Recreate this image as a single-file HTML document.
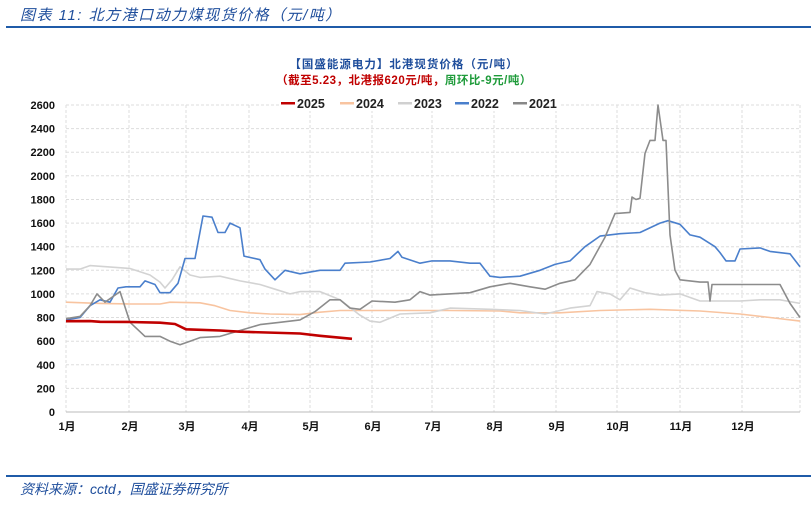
<!DOCTYPE html>
<html><head><meta charset="utf-8"><style>
body{margin:0;background:#fff;width:811px;height:513px;overflow:hidden;font-family:"Liberation Sans","Noto Sans CJK SC",sans-serif}
</style></head><body>
<svg id="s" width="811" height="513" xmlns="http://www.w3.org/2000/svg" font-family="Liberation Sans, Noto Sans CJK SC, sans-serif">
<text x="20" y="20" font-size="15" font-style="italic" fill="#1f4e9c" letter-spacing="1.5">图表 11:  北方港口动力煤现货价格（元/吨）</text>
<rect x="6" y="26" width="805" height="2" fill="#1f5ba8"/>
<text x="404" y="68" font-size="11.5" font-weight="bold" fill="#1f4e9c" text-anchor="middle" letter-spacing="1">【国盛能源电力】北港现货价格（元/吨）</text>
<text x="404" y="84" font-size="11.5" font-weight="bold" text-anchor="middle" letter-spacing="0.5"><tspan fill="#c00000">（截至5.23，北港报620元/吨，</tspan><tspan fill="#1e9b3a">周环比-9元/吨）</tspan></text>
<g id="grid"></g>
<g id="lines" fill="none" stroke-linejoin="round"></g>
<g font-size="12.5" font-weight="bold" fill="#222">
<rect x="280" y="96" width="280" height="15" fill="#fff"/>
<rect x="281" y="102" width="14" height="2.5" fill="#c00000"/><text x="297" y="108">2025</text>
<rect x="340" y="102" width="14" height="2.5" fill="#f8c4a0"/><text x="356" y="108">2024</text>
<rect x="398" y="102" width="14" height="2.5" fill="#d0d0d0"/><text x="414" y="108">2023</text>
<rect x="455" y="102" width="14" height="2.5" fill="#4a7fcc"/><text x="471" y="108">2022</text>
<rect x="513" y="102" width="14" height="2.5" fill="#888"/><text x="529" y="108">2021</text>
</g>
<rect x="6" y="475" width="805" height="2" fill="#1f5ba8"/>
<text x="20" y="494" font-size="14" font-style="italic" fill="#1f4e9c">资料来源：cctd，国盛证券研究所</text>
</svg>
<script>
function Y(v){return 412-v*0.11808;}
var g=document.getElementById('grid'),s='';
for(var v=0;v<=2600;v+=200){
 var y=Y(v).toFixed(1);
 if(v>0)s+='<line x1="66" x2="800" y1="'+y+'" y2="'+y+'" stroke="#ddd" stroke-dasharray="3,2"/>';
 s+='<text x="55" y="'+(+y+4)+'" font-size="11" font-weight="bold" text-anchor="end" fill="#111">'+v+'</text>';
}
var mx=[66,129,186,249,310,372,432,494,556,617,680,742,800];
for(var i=0;i<mx.length;i++){
 s+='<line x1="'+mx[i]+'" x2="'+mx[i]+'" y1="105" y2="412" stroke="#ddd" stroke-dasharray="3,2"/>';
 if(i<12)s+='<text x="'+(mx[i]+1)+'" y="430" font-size="11" font-weight="bold" text-anchor="middle" fill="#111">'+(i+1)+'月</text>';
}
s+='<line x1="66" x2="800" y1="412" y2="412" stroke="#bbb"/>';
g.innerHTML=s;
var D={
'#f8c4a0':[66,930,100,920,130,915,160,915,170,930,200,925,215,900,230,860,250,840,270,830,300,825,320,845,340,860,370,860,400,860,450,860,500,855,520,840,560,840,600,860,650,870,700,855,740,830,770,800,800,770],
'#d3d3d3':[66,1210,80,1210,90,1240,130,1215,150,1160,160,1100,165,1050,172,1120,180,1230,190,1160,200,1140,220,1150,240,1110,260,1080,275,1040,290,1000,300,1020,320,1020,340,950,360,820,370,770,380,760,400,830,430,840,450,880,490,870,520,860,545,830,570,880,590,900,597,1020,610,1000,620,950,630,1050,645,1010,660,990,680,1000,700,940,740,940,760,950,780,950,800,920],
'#4a7fcc':[66,780,80,800,90,900,100,950,110,930,118,1050,126,1060,140,1060,145,1110,155,1080,160,1010,170,1010,178,1090,185,1300,195,1300,203,1660,212,1650,218,1520,225,1520,230,1600,240,1560,244,1320,260,1290,265,1210,275,1120,285,1200,300,1170,320,1200,340,1200,345,1260,370,1270,390,1300,398,1360,402,1310,420,1260,432,1280,450,1280,470,1260,480,1260,490,1150,500,1140,520,1150,540,1200,555,1250,570,1280,585,1400,600,1490,620,1510,640,1520,660,1600,668,1620,680,1590,690,1500,700,1480,715,1400,720,1350,726,1280,735,1280,740,1380,760,1390,770,1360,790,1340,800,1230],
'#8c8c8c':[66,790,80,810,90,900,97,1000,105,930,120,1020,130,760,140,680,145,640,160,640,170,600,180,570,190,600,200,630,220,640,240,690,260,740,280,760,300,780,315,850,330,950,340,950,350,880,360,870,372,940,395,930,410,950,420,1020,430,990,470,1010,490,1060,510,1090,530,1060,545,1040,560,1090,575,1120,590,1250,605,1480,615,1680,630,1690,632,1820,636,1800,640,1810,645,2190,650,2300,655,2300,658,2600,663,2300,666,2300,670,1500,675,1200,680,1120,700,1100,708,1100,710,940,712,1080,780,1080,790,920,800,800],
'#c00000':[66,769,90,770,100,764,130,762,160,756,175,745,186,700,220,690,240,680,300,665,320,645,352,620]
};
var L=document.getElementById('lines'),h='';
for(var c in D){var a=D[c],p=[];for(var i=0;i<a.length;i+=2)p.push(a[i]+','+Y(a[i+1]).toFixed(1));
 h+='<polyline points="'+p.join(' ')+'" stroke="'+c+'" stroke-width="'+(c=='#c00000'?2.6:1.6)+'"/>';}
L.innerHTML=h;
</script>
</body></html>
